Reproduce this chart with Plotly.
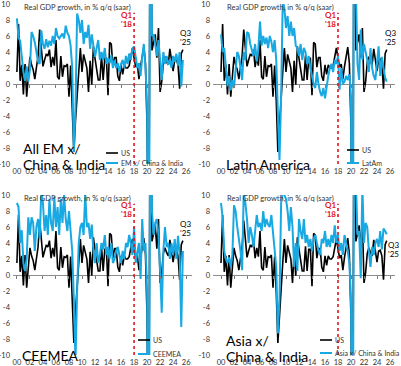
import plotly.graph_objects as go

# ---------------- DATA ----------------
quarters = [f"{y}Q{q}" for y in range(2000, 2026) for q in range(1, 5)][:103]

us = [1.5, 7.5, 0.4, 2.4, -1.3, 2.5, -1.6, 1.1, 3.4, 2.4, 1.8, 0.6, 2.2, 3.5, 6.8, 4.7,
      2.2, 3.0, 3.7, 3.5, 4.3, 2.1, 3.4, 2.3, 5.5, 0.9, 0.6, 3.5, 0.9, 2.3, 2.2, 2.5,
      -1.6, 2.3, -2.1, -8.5, -4.6, -0.7, 1.5, 4.5, 1.5, 3.7, 3.0, 2.0, -1.0, 2.9, -0.1, 4.7,
      3.2, 1.7, 0.5, 0.5, 3.6, 0.5, 3.2, 3.2, -1.4, 5.2, 5.0, 2.1, 3.3, 3.3, 1.0, 0.4,
      2.4, 1.2, 2.4, 2.0, 2.0, 2.3, 3.2, 4.5, 3.3, 2.1, 2.5, 0.6, 2.2, 3.4, 4.6, 2.6,
      -5.5, -28.0, 34.8, 4.2, 5.2, 6.2, 3.3, 7.0, -1.0, 0.3, 2.7, 3.4, 2.8, 2.4, 4.4, 3.2,
      1.6, 3.0, 3.1, 2.4, -0.6, 3.8, 4.3]

em_x_china_india = [8.2, 5.8, 5.4, 3.0, 1.5, 0.4, 2.2, 0.3, 1.8, 6.5, 6.0, 5.2, 3.8, 2.8, 2.5, 6.7,
      5.0, 4.4, 5.6, 4.6, 5.4, 4.8, 6.0, 5.0, 7.0, 6.0, 5.7, 6.1, 6.3, 5.7, 7.3, 6.4,
      6.0, 4.8, 2.0, -8.5, -3.0, 8.8, 8.0, 6.4, 8.0, 5.0, 6.5, 5.8, 7.4, 4.4, 6.2, 4.8,
      3.4, 4.5, 5.5, 3.0, 4.0, 3.0, 4.5, 2.5, 3.2, 2.6, 3.6, 2.0, 3.0, 2.0, 2.6, 1.5,
      2.5, 3.0, 2.0, 3.5, 2.5, 3.8, 3.0, 4.4, 4.7, 3.4, 2.0, 2.6, 1.0, 3.4, 5.0, 2.0,
      -2.5, -35.0, 30.0, 6.0, 6.2, 5.0, 3.5, 5.5, 3.0, 0.5, 4.0, 2.5, 3.5, 2.4, 3.0, 2.0,
      3.5, 2.8, 3.8, 2.3, 4.0, -0.3, 3.0]

latam = [6.2, 4.0, 4.5, 2.0, -0.3, 1.0, -0.8, 0.5, -0.5, 1.8, 4.0, 3.5, 2.0, 0.5, 4.0, 3.0,
      6.5, 6.3, 5.0, 4.2, 3.5, 5.0, 2.8, 4.5, 7.8, 4.8, 6.0, 5.0, 5.8, 4.5, 6.0, 5.3,
      4.0, 5.5, 3.0, -3.5, -9.5, -1.5, 10.5, 9.5, 7.0, 8.5, 6.0, 7.8, 6.0, 7.0, 4.8, 4.5,
      3.5, 5.0, 3.0, 4.5, 4.0, 2.5, 3.5, 2.0, 1.0, 0.0, -0.5, 1.5, 0.0, -1.0, -1.5, -0.5,
      -1.8, 0.0, 1.0, 2.0, 2.5, 1.5, 3.0, 2.5, 3.5, -0.7, 2.0, 0.0, 0.3, 1.0, 0.5, 1.2,
      -1.5, -45.0, 45.0, 12.0, 2.5, 0.5, 6.8, 3.0, 5.0, 4.0, 3.0, 1.5, 4.5, 2.0, 1.0, 0.5,
      3.0, 4.7, 1.0, 3.4, 2.0, 0.8, 0.3]

ceemea = [9.0, 8.5, 4.0, 5.6, 1.5, 0.5, 2.0, 7.2, 5.0, 7.2, 6.5, 3.0, 6.0, 7.0, 4.5, 10.5,
      9.0, 5.5, 7.5, 5.0, 9.5, 6.5, 5.5, 9.8, 6.0, 8.5, 5.0, 9.5, 6.5, 10.0, 7.0, 5.5,
      8.0, 5.0, 3.0, -3.0, -11.0, -2.0, 4.0, 6.0, 6.5, 5.0, 10.2, 6.0, 6.5, 4.5, 6.3, 3.0,
      1.5, 4.0, 1.5, 2.5, 4.0, 3.2, 5.0, 2.5, 3.5, 2.0, 4.0, 1.5, 2.0, 3.0, 3.5, 2.5,
      1.5, 3.0, 2.0, 4.0, 3.5, 5.0, 4.0, 2.5, 6.0, 1.5, 3.0, 4.0, -0.5, 7.0, 3.0, 4.0,
      -2.0, -35.0, 25.0, 8.0, 5.0, 6.5, 7.0, 5.0, 0.5, -4.7, 3.0, 6.0, 3.5, 4.0, 2.0, 4.0,
      2.5, 4.5, 2.0, 4.9, 2.5, -6.5, 3.0]

asia_x_china_india = [9.0, 7.2, 3.0, 2.0, 1.5, 2.2, 1.0, 2.5, 8.7, 8.0, 6.0, 4.5, 3.0, 0.6, 10.5, 9.0,
      7.0, 4.0, 6.0, 5.0, 3.5, 5.5, 7.5, 6.0, 6.5, 5.5, 8.0, 6.0, 7.0, 6.3, 6.0, 7.5,
      5.0, 3.5, 1.0, -7.3, -3.0, 9.0, 10.5, 10.0, 9.5, 8.0, 5.5, 8.5, 6.0, 1.0, 4.0, 0.5,
      7.0, 5.5, 4.5, 7.0, 4.0, 5.0, 3.5, 4.5, 3.0, 4.5, 5.0, 4.0, 3.0, 2.5, 4.5, 4.0,
      5.5, 3.5, 4.5, 3.5, 5.0, 4.0, 6.2, 4.0, 5.0, 3.0, 4.0, 2.5, 5.0, 4.0, 3.0, 1.5,
      -3.0, -30.0, 25.0, 12.0, 5.0, 5.5, -0.4, 11.0, 4.0, 6.5, 6.0, 3.0, 1.0, 3.5, 2.5, 4.0,
      4.5, 3.5, 5.5, 3.2, 5.8, 5.5, 5.1]

series_names = ["EM x/ China & India", "LatAm", "CEEMEA", "Asia x/ China & India"]
panel_titles = [["All EM x/", "China & India"], ["Latin America"], ["CEEMEA"], ["Asia x/", "China & India"]]
y_tick_vals = [10, 8, 6, 4, 2, 0, -2, -4, -6, -8, -10]
y_tick_text = ["10", "8", "6", "4", "2", "0", "-2", "-4", "-6", "-8", "-10"]
x_tick_vals = list(range(2000, 2027, 2))
x_tick_text = ["00", "02", "04", "06", "08", "10", "12", "14", "16", "18", "20", "22", "24", "26"]
marker_year = 2018.0   # Q1 '18

# ---------------- FIGURE ----------------
x_years = [int(s[:4]) + (int(s[-1]) - 1) / 4 for s in quarters]
blue_series = [em_x_china_india, latam, ceemea, asia_x_china_india]

W, H = 401, 366
def PX(px): return px / W
def PY(py): return 1 - py / H

BLUE = "#18A8E2"
RED = "#E3151B"
TXT = "#333333"
FONT = "Lato"
SMALL = "Liberation Sans Narrow, Lato"

panels = [
    dict(x0=13, x1=192, top=4, rng=[1999.4, 2026.9], dx=0, dy=0),
    dict(x0=213, x1=395, top=4, rng=[1998.77, 2026.77], dx=200, dy=0),
    dict(x0=13, x1=192, top=195, rng=[1999.4, 2026.9], dx=0, dy=191),
    dict(x0=213, x1=395, top=195, rng=[1998.77, 2026.77], dx=200, dy=191),
]

fig = go.Figure()
layout = dict(width=W, height=H, margin=dict(l=0, r=0, t=0, b=0, autoexpand=False),
              paper_bgcolor="white", plot_bgcolor="white", showlegend=False,
              font=dict(family=FONT, color=TXT))
shapes, annotations = [], []

for i, p in enumerate(panels):
    n = i + 1
    xa = "x" if n == 1 else f"x{n}"
    ya = "y" if n == 1 else f"y{n}"
    xkey = "xaxis" if n == 1 else f"xaxis{n}"
    ykey = "yaxis" if n == 1 else f"yaxis{n}"
    xo = f"x{n + 4}"
    xokey = f"xaxis{n + 4}"
    bottom = p["top"] + 160
    zero_px = p["top"] + 80

    fig.add_trace(go.Scatter(x=x_years, y=us, xaxis=xa, yaxis=ya, mode="lines",
                             line=dict(color="black", width=1.6), hoverinfo="skip"))
    fig.add_trace(go.Scatter(x=x_years, y=blue_series[i], xaxis=xo, yaxis=ya, mode="lines",
                             line=dict(color=BLUE, width=2), hoverinfo="skip"))

    layout[xkey] = dict(domain=[PX(p["x0"]), PX(p["x1"])], range=p["rng"], anchor=ya,
                        tickvals=x_tick_vals, ticktext=x_tick_text, showgrid=False,
                        zeroline=False, showline=False, ticks="", automargin=False,
                        ticklabeloverflow="allow",
                        tickfont=dict(size=7.5, color=TXT, family=SMALL), ticklabelstandoff=1)
    layout[ykey] = dict(domain=[PY(bottom), PY(p["top"])], range=[-10, 10], anchor=xa,
                        tickvals=y_tick_vals, ticktext=y_tick_text, showgrid=False,
                        zeroline=True, zerolinecolor="#8c8c8c", zerolinewidth=1,
                        showline=False, ticks="", automargin=False,
                        ticklabeloverflow="allow",
                        tickfont=dict(size=7.5, color=TXT, family=SMALL), ticklabelstandoff=2)
    layout[xokey] = dict(overlaying=xa, anchor="free", position=PY(zero_px), range=p["rng"],
                         tickvals=x_tick_vals, ticks="outside", ticklen=3, tickwidth=1,
                         tickcolor="#7a7a7a", showticklabels=False, showgrid=False,
                         zeroline=False, showline=False, automargin=False,
                         domain=[PX(p["x0"]), PX(p["x1"])])

    shapes.append(dict(type="line", xref=xa, yref=ya, x0=marker_year, x1=marker_year,
                       y0=-10, y1=8.9, line=dict(color=RED, width=1.6, dash="dot")))

    dx, dy = p["dx"], p["dy"]
    annotations.append(dict(text="Real GDP growth, in % q/q (saar)", x=PX(22 + dx + (3 if dx else 0)),
                            y=PY(7 + dy), xref="paper", yref="paper",
                            xanchor="left", yanchor="middle", showarrow=False,
                            font=dict(size=7.5, color=TXT, family=SMALL)))
    qx = 126 + dx + (4 if dx else 0)
    qy = 15 + dy + (0 if not dy else -1)
    annotations.append(dict(text="<b>Q1</b>", x=PX(qx), y=PY(qy), xref="paper", yref="paper",
                            xanchor="center", yanchor="middle", showarrow=False,
                            font=dict(size=8, color=RED, family=FONT)))
    annotations.append(dict(text="<b>'18</b>", x=PX(qx), y=PY(qy + 9), xref="paper", yref="paper",
                            xanchor="center", yanchor="middle", showarrow=False,
                            font=dict(size=8, color=RED, family=FONT)))

q3_pos = [(185, 33), (390, 33), (185, 224), (393, 245)]
for (qx, qy) in q3_pos:
    for k, t in enumerate(["Q3", "'25"]):
        annotations.append(dict(text=t, x=PX(qx), y=PY(qy + 9 * k), xref="paper", yref="paper",
                                xanchor="center", yanchor="middle", showarrow=False,
                                font=dict(size=8, color="black", family=FONT)))

title_pos = [(21, 148), (224, 164), (20, 355), (224, 340)]
for lines, (tx, ty) in zip(panel_titles, title_pos):
    for k, t in enumerate(lines):
        annotations.append(dict(text=t, x=PX(tx), y=PY(ty + 16 * k), xref="paper", yref="paper",
                                xanchor="left", yanchor="middle", showarrow=False,
                                font=dict(size=14, color="black", family=FONT)))

leg_pos = [(106, 153, 163), (347, 150, 163), (138, 340, 354), (320, 340, 353)]
for name, (lx, ly1, ly2) in zip(series_names, leg_pos):
    shapes.append(dict(type="line", xref="paper", yref="paper", x0=PX(lx), x1=PX(lx + 12),
                       y0=PY(ly1), y1=PY(ly1), line=dict(color="black", width=1.6)))
    shapes.append(dict(type="line", xref="paper", yref="paper", x0=PX(lx), x1=PX(lx + 12),
                       y0=PY(ly2), y1=PY(ly2), line=dict(color=BLUE, width=2)))
    annotations.append(dict(text="US", x=PX(lx + 13), y=PY(ly1), xref="paper", yref="paper",
                            xanchor="left", yanchor="middle", showarrow=False,
                            font=dict(size=7, color=TXT, family=SMALL)))
    annotations.append(dict(text=name, x=PX(lx + 13), y=PY(ly2), xref="paper", yref="paper",
                            xanchor="left", yanchor="middle", showarrow=False,
                            font=dict(size=7, color=TXT, family=SMALL)))

layout["shapes"] = shapes
layout["annotations"] = annotations
fig.update_layout(**layout)
fig.write_html("out.html", config={"displayModeBar": False},
               post_script="document.body.style.margin='0';document.body.style.padding='0';"
                           "document.body.style.overflow='hidden';")
